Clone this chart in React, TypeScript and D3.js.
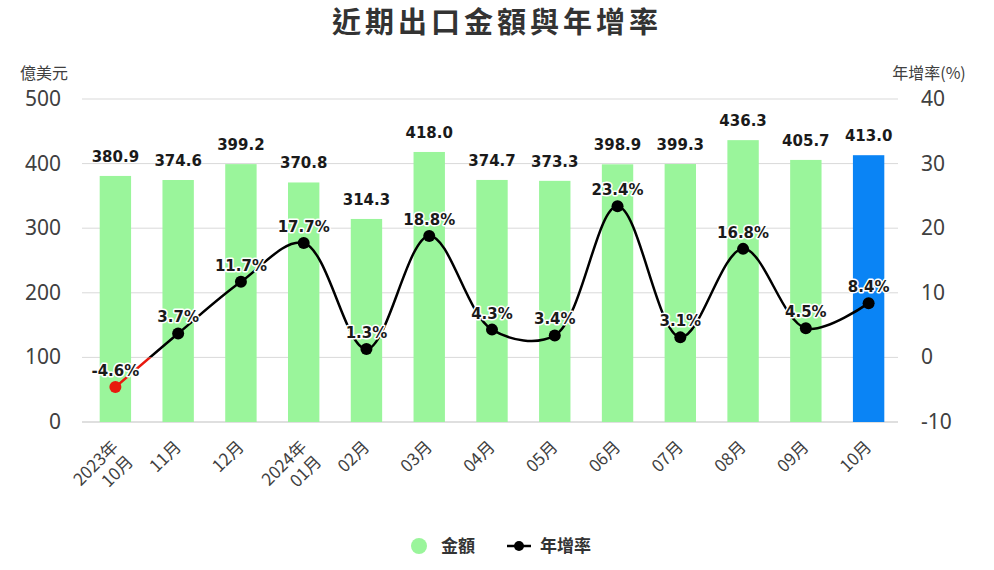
import React from "react";
import * as d3 from "d3";

const categories = ["2023年\n10月", "11月", "12月", "2024年\n01月", "02月", "03月", "04月", "05月", "06月", "07月", "08月", "09月", "10月"];
const amounts = [380.9, 374.6, 399.2, 370.8, 314.3, 418.0, 374.7, 373.3, 398.9, 399.3, 436.3, 405.7, 413.0];
const growth = [-4.6, 3.7, 11.7, 17.7, 1.3, 18.8, 4.3, 3.4, 23.4, 3.1, 16.8, 4.5, 8.4];
const leftTicks = [0, 100, 200, 300, 400, 500];
const rightTicks = [-10, 0, 10, 20, 30, 40];

const W = 994, H = 570;
const plot = { left: 84, right: 900, top: 99, bottom: 422 };
const CJK = "'Noto Sans CJK TC', 'Noto Sans', sans-serif";
const NUM = "'DejaVu Sans', sans-serif";

export default function App() {
  const x = d3.scaleBand<number>().domain(d3.range(categories.length)).range([plot.left, plot.right]).paddingInner(0.5).paddingOuter(0.25);
  const yL = d3.scaleLinear().domain([0, 500]).range([plot.bottom, plot.top]);
  const yR = d3.scaleLinear().domain([-10, 40]).range([plot.bottom, plot.top]);
  const cx = (i: number) => (x(i) as number) + x.bandwidth() / 2;
  const line = d3.line<number>().x((_, i) => cx(i)).y((d) => yR(d)).curve(d3.curveCatmullRom.alpha(0.5));
  const path = line(growth) || "";
  const zeroY = yR(0);

  return (
    <svg width={W} height={H} style={{ display: "block", position: "absolute", left: 0, top: 0 }}>
      <defs>
        <clipPath id="above"><rect x={0} y={0} width={W} height={zeroY} /></clipPath>
        <clipPath id="below"><rect x={0} y={zeroY} width={W} height={H - zeroY} /></clipPath>
      </defs>
      <rect width={W} height={H} fill="#fff" />
      <text x={W / 2} y={33} textAnchor="middle" fontFamily={CJK} fontWeight={700} fontSize={29} letterSpacing={4} fill="#333">近期出口金額與年增率</text>
      <text x={44} y={79} textAnchor="middle" fontFamily={CJK} fontSize={16} fill="#404040">億美元</text>
      <text x={929} y={79} textAnchor="middle" fontFamily={CJK} fontSize={16} fill="#404040">年增率(%)</text>

      {leftTicks.map((t) => (
        <g key={"g" + t}>
          <line x1={plot.left - 2} x2={plot.right - 2} y1={yL(t)} y2={yL(t)} stroke={t === 0 ? "#bfbfbf" : "#d9d9d9"} strokeWidth={1} />
          <text x={61} y={yL(t) + 7} textAnchor="end" fontFamily="'Noto Sans', sans-serif" fontSize={21} fill="#404040">{t}</text>
        </g>
      ))}
      {rightTicks.map((t) => (
        <text key={"r" + t} x={921} y={yR(t) + 7} textAnchor="start" fontFamily="'Noto Sans', sans-serif" fontSize={21} fill="#404040">{t}</text>
      ))}

      {amounts.map((v, i) => (
        <g key={"b" + i}>
          <rect x={x(i)} y={yL(v)} width={x.bandwidth()} height={yL(0) - yL(v)} fill={i === amounts.length - 1 ? "#0a84f5" : "#9af59b"} />
          <text x={cx(i)} y={yL(v) - 14} textAnchor="middle" fontFamily={NUM} fontWeight={700} fontSize={15} fill="#1a1a1a">{v.toFixed(1)}</text>
        </g>
      ))}

      <path d={path} fill="none" stroke="#000" strokeWidth={2.5} clipPath="url(#above)" />
      <path d={path} fill="none" stroke="#e8190e" strokeWidth={2.5} clipPath="url(#below)" />
      {growth.map((v, i) => (
        <circle key={"c" + i} cx={cx(i)} cy={yR(v)} r={6} fill={v < 0 ? "#e8190e" : "#000"} />
      ))}
      {growth.map((v, i) => (
        <text key={"l" + i} x={cx(i)} y={yR(v) - 11} textAnchor="middle" fontFamily={NUM} fontWeight={700} fontSize={15} fill="#1a1a1a" stroke="#fff" strokeWidth={3} paintOrder="stroke" strokeLinejoin="round">{v.toFixed(1)}%</text>
      ))}

      {categories.map((c, i) => {
        const lines = c.split("\n");
        return (
          <g key={"x" + i} transform={`translate(${cx(i) + 4},${plot.bottom + 26}) rotate(-45)`}>
            {lines.map((ln, j) => (
              <text key={j} x={0} y={j * 21} textAnchor="end" fontFamily={CJK} fontSize={17} fill="#404040">{ln}</text>
            ))}
          </g>
        );
      })}

      <circle cx={419} cy={546} r={8} fill="#9af59b" />
      <text x={441} y={552} fontFamily={CJK} fontWeight={700} fontSize={17} fill="#333">金額</text>
      <line x1={507} x2={531} y1={546} y2={546} stroke="#000" strokeWidth={2.5} />
      <circle cx={519} cy={546} r={5} fill="#000" />
      <text x={540} y={552} fontFamily={CJK} fontWeight={700} fontSize={17} fill="#333">年增率</text>
    </svg>
  );
}
